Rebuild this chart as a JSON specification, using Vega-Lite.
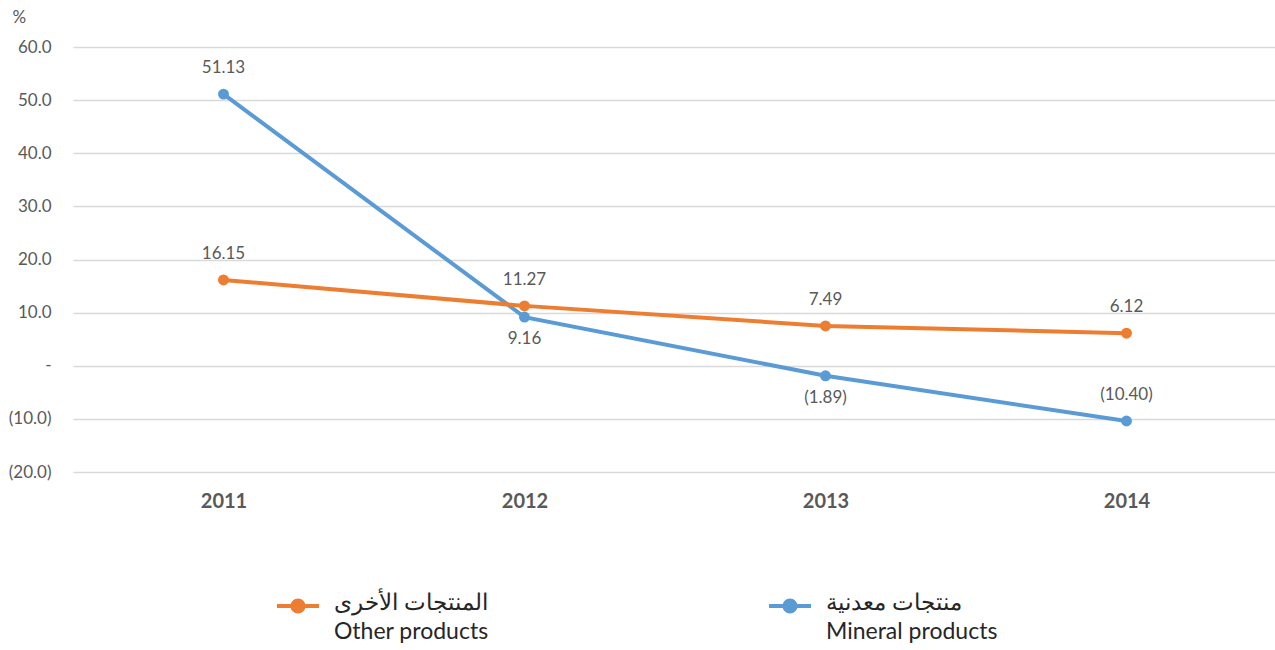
{
  "$schema": "https://vega.github.io/schema/vega-lite/v6.json",
  "autosize": "none",
  "width": 1204,
  "height": 425,
  "padding": {"left": 73, "top": 47, "right": 0, "bottom": 178},
  "background": "white",
  "config": {
    "font": "Lato",
    "view": {"stroke": null}
  },
  "data": {
    "values": [
      {"year": "2011", "series": "Mineral products", "value": 51.13},
      {"year": "2012", "series": "Mineral products", "value": 9.16},
      {"year": "2013", "series": "Mineral products", "value": -1.89},
      {"year": "2014", "series": "Mineral products", "value": -10.40},
      {"year": "2011", "series": "Other products", "value": 16.15},
      {"year": "2012", "series": "Other products", "value": 11.27},
      {"year": "2013", "series": "Other products", "value": 7.49},
      {"year": "2014", "series": "Other products", "value": 6.12}
    ]
  },
  "transform": [
    {"calculate": "datum.value < 0 ? '(' + format(-datum.value, '.2f') + ')' : format(datum.value, '.2f')", "as": "label"}
  ],
  "encoding": {
    "x": {
      "field": "year", "type": "ordinal",
      "scale": {"type": "point", "padding": 0.5},
      "axis": {
        "title": null, "labelAngle": 0, "domain": false, "ticks": false,
        "labelFontSize": 20, "labelFontWeight": "bold", "labelColor": "#595959",
        "labelPadding": 19
      }
    },
    "y": {
      "field": "value", "type": "quantitative",
      "scale": {"domain": [-20, 60], "nice": false, "zero": false},
      "axis": {
        "values": [-20, -10, 0, 10, 20, 30, 40, 50, 60],
        "title": "%", "titleAngle": 0, "titleX": -61, "titleY": -30,
        "titleAlign": "left", "titleBaseline": "middle",
        "titleFontSize": 17, "titleFontWeight": "normal", "titleColor": "#595959",
        "domain": false, "ticks": false,
        "labelFontSize": 17, "labelColor": "#595959", "labelPadding": 22,
        "labelExpr": "datum.value == 0 ? '-' : (datum.value < 0 ? '(' + format(-datum.value, '.1f') + ')' : format(datum.value, '.1f'))",
        "gridColor": "#d9d9d9", "gridWidth": 1.3
      }
    },
    "color": {
      "field": "series", "type": "nominal",
      "scale": {"domain": ["Other products", "Mineral products"], "range": ["#ED7D31", "#5B9BD5"]},
      "legend": {
        "title": null,
        "orient": "none",
        "direction": "horizontal",
        "legendX": 209,
        "legendY": 543,
        "symbolType": "M-1.5,0H1.5M-0.4,0A0.4,0.4 0 1,1 0.4,0A0.4,0.4 0 1,1 -0.4,0Z",
        "symbolSize": 784,
        "symbolStrokeWidth": 4,
        "labelFontSize": 23,
        "labelColor": "#262626",
        "labelFont": "Lato",
        "labelBaseline": "top",
        "labelOffset": 20,
        "labelLimit": 400,
        "columnPadding": 272,
        "labelExpr": "datum.value == 'Other products' ? ['المنتجات الأخرى', 'Other products'] : ['منتجات معدنية', 'Mineral products']",
        "encode": {"labels": {"update": {"lineHeight": {"value": 29}, "dy": {"value": -14}}}}
      }
    }
  },
  "layer": [
    {"mark": {"type": "line", "strokeWidth": 4}},
    {"mark": {"type": "point", "filled": true, "size": 120, "opacity": 1}},
    {
      "transform": [{"filter": "datum.series == 'Other products' || datum.year == '2011' || datum.year == '2014'"}],
      "mark": {"type": "text", "dy": -26, "fontSize": 17, "color": "#595959"},
      "encoding": {"text": {"field": "label"}, "color": {"value": "#595959"}}
    },
    {
      "transform": [{"filter": "datum.series == 'Mineral products' && (datum.year == '2012' || datum.year == '2013')"}],
      "mark": {"type": "text", "dy": 22, "fontSize": 17, "color": "#595959"},
      "encoding": {"text": {"field": "label"}, "color": {"value": "#595959"}}
    }
  ]
}
